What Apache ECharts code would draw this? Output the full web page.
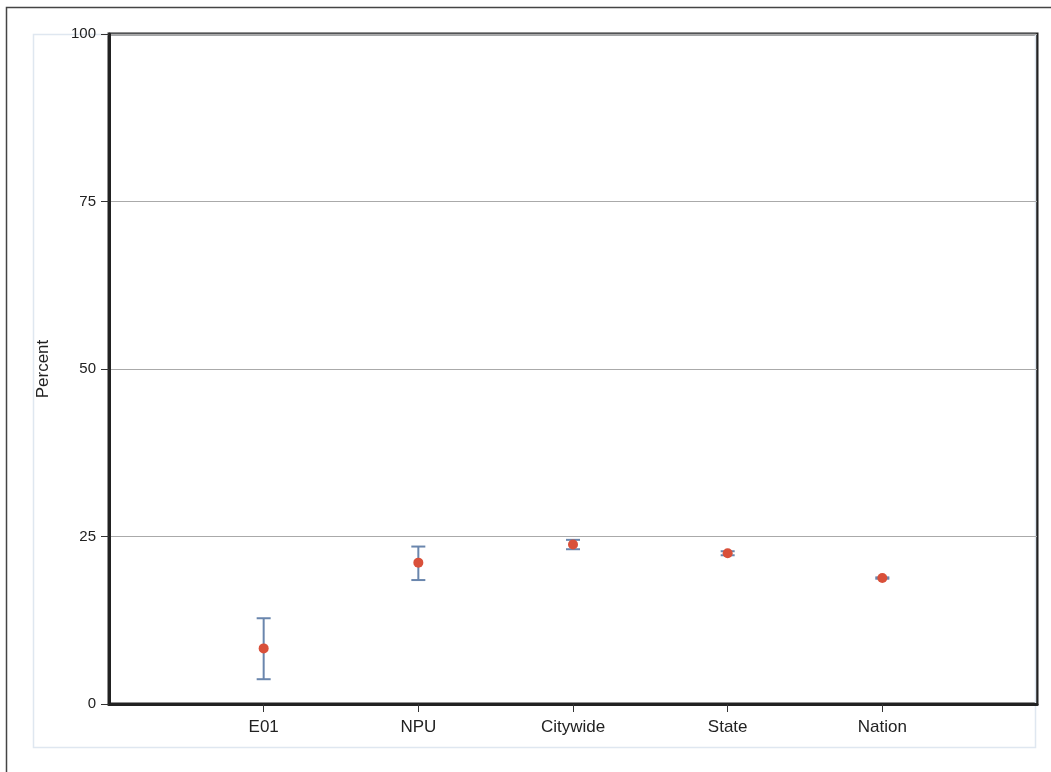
<!DOCTYPE html>
<html><head><meta charset="utf-8">
<script src="https://cdn.jsdelivr.net/npm/echarts@6/dist/echarts.min.js"></script>
<style>html,body{margin:0;padding:0;background:#fff}#c{width:1051px;height:772px}</style>
</head><body><div id="c"></div>
<script>
const categories = ['E01', 'NPU', 'Citywide', 'State', 'Nation'];
const values = [8.3, 21.1, 23.8, 22.5, 18.8];
const lows = [3.7, 18.5, 23.1, 22.2, 18.7];
const highs = [12.8, 23.5, 24.5, 22.8, 18.9];
const yTicks = [0, 25, 50, 75, 100];

const axisCats = [''].concat(categories).concat(['']);
const chart = echarts.init(document.getElementById('c'), null, {renderer: 'canvas'});
const errData = categories.map((c, i) => [i + 1, lows[i], highs[i]]);
const ptData = categories.map((c, i) => [i + 1, values[i]]);

chart.setOption({
  animation: false,
  graphic: [
    {type: 'rect', shape: {x: 6.5, y: 7.5, width: 1100, height: 800}, style: {fill: 'none', stroke: '#444', lineWidth: 1.5}, z: 0},
    {type: 'rect', shape: {x: 33.5, y: 34.5, width: 1002, height: 713}, style: {fill: 'none', stroke: '#dfe7f0', lineWidth: 1.5}, z: 0}
  ],
  grid: {left: 109, right: 14, top: 34, bottom: 68, show: true, borderColor: '#222', borderWidth: 3, backgroundColor: 'transparent'},
  xAxis: {
    type: 'category', data: axisCats, boundaryGap: false,
    axisLine: {show: true, lineStyle: {color: '#222', width: 3}},
    axisTick: {show: true, length: 8, interval: (i) => i >= 1 && i <= categories.length, lineStyle: {color: '#333', width: 1}},
    axisLabel: {interval: 0, color: '#222', fontSize: 17, fontFamily: 'Liberation Sans, Arial, sans-serif', margin: 15},
    splitLine: {show: false}
  },
  yAxis: {
    type: 'value', min: yTicks[0], max: yTicks[yTicks.length - 1], interval: 25,
    name: 'Percent', nameLocation: 'middle', nameGap: 57, nameRotate: 90,
    nameTextStyle: {color: '#222', fontSize: 17, fontFamily: 'Liberation Sans, Arial, sans-serif'},
    axisLine: {show: true, lineStyle: {color: '#222', width: 3}},
    axisTick: {show: true, length: 8, lineStyle: {color: '#333', width: 1}},
    axisLabel: {color: '#222', fontSize: 15, fontFamily: 'Liberation Sans, Arial, sans-serif', margin: 13},
    splitLine: {show: true, lineStyle: {color: '#aaa', width: 1}}
  },
  series: [
    {
      type: 'custom', data: errData, z: 3,
      renderItem: function (params, api) {
        const x = api.value(0);
        const lo = api.coord([x, api.value(1)]);
        const hi = api.coord([x, api.value(2)]);
        const hw = 7;
        const st = {stroke: '#6a86ad', lineWidth: 2, fill: 'none'};
        return {type: 'group', children: [
          {type: 'line', shape: {x1: lo[0], y1: lo[1], x2: hi[0], y2: hi[1]}, style: st},
          {type: 'line', shape: {x1: lo[0] - hw, y1: lo[1], x2: lo[0] + hw, y2: lo[1]}, style: st},
          {type: 'line', shape: {x1: hi[0] - hw, y1: hi[1], x2: hi[0] + hw, y2: hi[1]}, style: st}
        ]};
      }
    },
    {
      type: 'scatter', data: ptData, symbol: 'circle', symbolSize: 10, z: 4,
      itemStyle: {color: '#d9503a', opacity: 1}
    }
  ]
});
</script></body></html>
